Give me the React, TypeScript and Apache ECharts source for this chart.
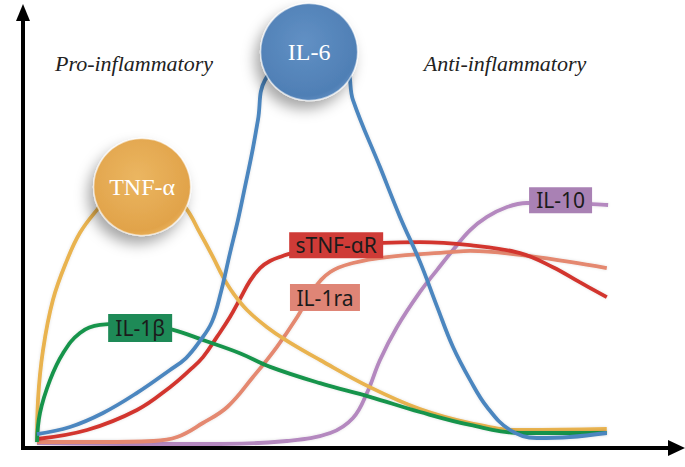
import React, { useEffect, useRef } from "react";
import * as echarts from "echarts";

// time (x, 0–100) vs relative level (y, 0–100)
const tnfAlpha: [number, number][] = [
  [1.97, 1.36], [2.12, 10.9], [2.88, 22.2], [4.39, 33.6], [6.52, 42.6], [8.48, 48.8],
  [11.06, 54.0], [13.8, 58.5], [17.6, 60.3], [21.4, 58.5], [24.39, 54.65], [26.67, 48.75],
  [28.64, 43.3], [30.15, 38.8], [31.67, 35.15], [33.79, 31.3], [36.82, 27.4], [39.85, 24.3],
  [44.85, 19.95], [52.4, 13.8], [60.0, 8.84], [67.6, 5.67], [75.15, 4.08], [88.3, 4.31],
];
const il6: [number, number][] = [
  [1.97, 3.17], [6.97, 4.76], [11.97, 7.94], [17.12, 12.5], [22.12, 17.7], [24.55, 20.4],
  [26.67, 24.3], [28.48, 28.6], [29.85, 35.4], [31.21, 44.2], [32.42, 51.7], [33.48, 59.2],
  [34.55, 66.9], [35.45, 74.4], [36.52, 83.45], [43.2, 91.4], [48.6, 86.85], [49.85, 78.9],
  [53.94, 63.7], [56.97, 52.4], [60.0, 42.2], [62.6, 32.0], [65.0, 22.9], [67.6, 15.4],
  [70.15, 9.3], [73.64, 4.08], [77.7, 2.27], [82.7, 2.49], [88.3, 3.4],
];
const il1b: [number, number][] = [
  [1.97, 1.36], [2.42, 7.94], [3.94, 15.4], [5.91, 21.5], [8.48, 26.1], [11.5, 27.9],
  [17.6, 28.3], [22.6, 26.8], [27.1, 24.5], [32.7, 21.5], [37.3, 18.4], [44.85, 14.7],
  [52.4, 11.6], [60.0, 8.16], [67.6, 5.22], [75.15, 3.4], [88.3, 3.4],
];
const stnfR: [number, number][] = [
  [1.97, 2.04], [9.55, 4.08], [17.12, 8.62], [22.12, 13.8], [25.15, 17.7], [27.12, 20.6],
  [29.24, 25.2], [31.21, 29.7], [32.73, 33.8], [34.24, 37.9], [35.76, 40.8], [37.27, 42.4],
  [39.09, 43.5], [40.61, 44.2], [46.36, 45.6], [54.4, 46.5], [60.0, 46.7], [67.6, 46.0],
  [75.15, 44.2], [80.15, 41.0], [84.2, 37.6], [88.3, 34.2],
];
const il1ra: [number, number][] = [
  [1.97, 1.36], [11.5, 1.36], [19.55, 1.59], [23.2, 2.49], [27.1, 5.67], [30.8, 9.3],
  [34.7, 16.1], [38.3, 22.9], [41.4, 29.7], [43.8, 35.8], [46.4, 39.9], [49.85, 41.95],
  [55.0, 43.3], [64.55, 44.4], [67.6, 44.7], [75.15, 43.8], [82.7, 42.2], [88.3, 40.8],
];
const il10: [number, number][] = [
  [1.97, 1.13], [19.1, 0.91], [29.7, 0.91], [39.85, 1.59], [46.4, 3.4], [49.85, 6.8],
  [51.97, 12.5], [53.94, 19.95], [56.5, 27.4], [60.0, 35.4], [62.6, 40.4], [65.0, 44.9],
  [67.6, 49.4], [70.15, 52.4], [73.2, 54.65], [76.2, 55.56], [81.2, 55.56], [86.06, 55.3],
  [88.5, 55.1],
];

// label anchors (peak / plateau positions on the curves)
const tnfPeak: [number, number] = [17.9, 59.2];
const il6Peak: [number, number] = [43.2, 89.8];
const il1bLabel: [number, number] = [17.6, 27.2];
const stnfLabel: [number, number] = [47.3, 46.0];
const il1raLabel: [number, number] = [45.6, 34.1];
const il10Label: [number, number] = [81.3, 56.2];

const phaseLabels = ["Pro-inflammatory", "Anti-inflammatory"];

export default function App() {
  const ref = useRef<HTMLDivElement>(null);
  useEffect(() => {
    if (!ref.current) return;
    const chart = echarts.init(ref.current, undefined, { renderer: "svg" });

    const line = (name: string, data: [number, number][], color: string, z: number) => ({
      name,
      type: "line",
      data,
      smooth: 0.4,
      showSymbol: false,
      symbol: "none",
      z,
      lineStyle: {
        color,
        width: 3.8,
        shadowColor: "rgba(0,0,0,0.12)",
        shadowBlur: 3,
      },
    });

    const box = (name: string, pos: [number, number], w: number, h: number, color: string) => ({
      type: "scatter",
      z: 6,
      symbol: "rect",
      symbolSize: [w, h],
      data: [{ name, value: pos }],
      itemStyle: { color, opacity: 1 },
      label: {
        show: true,
        position: "inside",
        formatter: "{b}",
        color: "#1b1b1b",
        fontFamily: "Noto Sans",
        fontSize: 21,
      },
    });

    const bubble = (name: string, pos: [number, number], c0: string, c1: string) => ({
      type: "scatter",
      z: 8,
      symbol: "circle",
      symbolSize: 97,
      data: [{ name, value: pos }],
      itemStyle: {
        color: new echarts.graphic.RadialGradient(0.45, 0.4, 0.65, [
          { offset: 0, color: c0 },
          { offset: 0.85, color: c1 },
          { offset: 1, color: c0 },
        ]),
        borderColor: "rgba(255,255,255,0.55)",
        borderWidth: 1.5,
        shadowColor: "rgba(0,0,0,0.35)",
        shadowBlur: 14,
        shadowOffsetX: -5,
        shadowOffsetY: 8,
        opacity: 1,
      },
      label: {
        show: true,
        position: "inside",
        formatter: "{b}",
        color: "#ffffff",
        fontFamily: "Liberation Serif",
        fontSize: 24,
      },
    });

    const phaseStyle = {
      fill: "#222",
      font: "italic 22px 'Liberation Serif'",
      textAlign: "center",
      textVerticalAlign: "middle",
      shadowColor: "rgba(0,0,0,0.3)",
      shadowBlur: 3,
      shadowOffsetX: 1,
      shadowOffsetY: 2,
    };

    chart.setOption({
      animation: false,
      backgroundColor: "#ffffff",
      grid: { left: 24, right: 1, top: 7, bottom: 19 },
      xAxis: { type: "value", min: 0, max: 100, show: false },
      yAxis: { type: "value", min: 0, max: 100, show: false },
      graphic: [
        { type: "line", shape: { x1: 23, y1: 450, x2: 23, y2: 18 }, style: { stroke: "#000", lineWidth: 4 } },
        { type: "polygon", shape: { points: [[23, 4], [16, 21], [30, 21]] }, style: { fill: "#000" } },
        { type: "line", shape: { x1: 21, y1: 448, x2: 671, y2: 448 }, style: { stroke: "#000", lineWidth: 4 } },
        { type: "polygon", shape: { points: [[685, 448], [668, 440], [668, 456]] }, style: { fill: "#000" } },
        { type: "text", x: 134, y: 63, style: { ...phaseStyle, text: phaseLabels[0] } },
        { type: "text", x: 505, y: 63, style: { ...phaseStyle, text: phaseLabels[1] } },
      ],
      series: [
        line("IL-10", il10, "#b488bf", 2),
        line("IL-1ra", il1ra, "#e4886f", 2),
        line("sTNF-αR", stnfR, "#d2362f", 2),
        line("TNF-α", tnfAlpha, "#e9b350", 2),
        line("IL-1β", il1b, "#17944b", 2),
        line("IL-6", il6, "#4c86bf", 2),
        box("IL-1β", il1bLabel, 64, 28, "#1e8a57"),
        box("sTNF-αR", stnfLabel, 94, 26, "#cf3b37"),
        box("IL-1ra", il1raLabel, 70, 27, "#df8576"),
        box("IL-10", il10Label, 63, 26, "#a981b4"),
        bubble("TNF-α", tnfPeak, "#ebb661", "#e1a34a"),
        bubble("IL-6", il6Peak, "#6190c4", "#4f7fb5"),
      ],
    });
    return () => chart.dispose();
  }, []);
  return (
    <div
      ref={ref}
      style={{ position: "fixed", left: 0, top: 0, width: 685, height: 467 }}
    />
  );
}
